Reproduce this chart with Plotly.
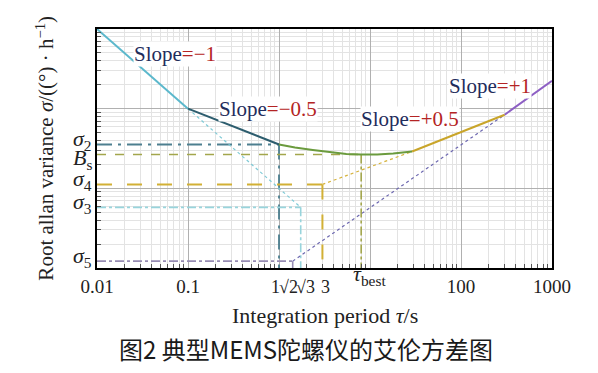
import numpy as np
import plotly.graph_objects as go

# ---------------- data ----------------
SQ2 = np.sqrt(2.0)
SQ3 = np.sqrt(3.0)
TAU_BEST = 8.0

seg_m1_tau = [0.01, 0.1]
seg_m1_val = [1000.0, 100.0]
seg_m05_tau = [0.1, 1.0]
seg_m05_val = [100.0, 35.5]
bias_tau = [1.0, 1.5, 2.35, 3.5, 5.5, 8.0, 12.0, 18.0, 29.0]
bias_val = [35.5, 32.5, 30.3, 28.6, 27.0, 26.6, 26.6, 27.4, 29.0]
seg_p05_tau = [29.0, 302.0]
seg_p05_val = [29.0, 84.0]
seg_p1_tau = [302.0, 1000.0]
seg_p1_val = [84.0, 224.0]

ext_m1_tau = [0.1, SQ3]
ext_m1_val = [100.0, 5.77]
ext_p05_tau = [3.0, 29.0]
ext_p05_val = [11.2, 29.0]
ext_p1_tau = [SQ2, 302.0]
ext_p1_val = [1.22, 84.0]

sigma_names = ["σ2", "Bs", "σ4", "σ3", "σ5"]
sigma_levels = [35.5, 26.6, 11.2, 5.77, 1.22]
sigma_taus = [1.0, TAU_BEST, 3.0, SQ3, SQ2]

tick_vals = [0.01, 0.1, 100, 1000]
tick_text = ["0.01", "0.1", "100", "1000"]
squeezed_vals = [1.0, SQ2, SQ3, 3.0]
squeezed_text = ["1", "√2", "√3", "3"]

slope_texts = ["=−1", "=−0.5", "=+0.5", "=+1"]

Y_BOTTOM = 1.0
X_LEFT = 0.01

# ---------------- styles ----------------
SERIF = "Liberation Serif, Times New Roman, serif"
fig = go.Figure()

def line(x, y, color, width, dash="solid"):
    fig.add_trace(go.Scatter(x=x, y=y, mode="lines", showlegend=False,
                             line=dict(color=color, width=width, dash=dash),
                             hoverinfo="skip"))

ref_styles = {
    "σ2": ("#4d7f8f", 1.8, "longdashdot", "longdashdot"),
    "Bs": ("#a3a64c", 1.6, "dash", "dashdot"),
    "σ4": ("#d2b035", 2.0, "longdash", "longdash"),
    "σ3": ("#98d4dc", 1.6, "dashdot", "dashdot"),
    "σ5": ("#978cb3", 1.6, "dashdot", "solid"),
}
for name, lev, tau in zip(sigma_names, sigma_levels, sigma_taus):
    c, w, dh, dv = ref_styles[name]
    line([X_LEFT, tau], [lev, lev], c, w, dh)
    line([tau, tau], [lev, Y_BOTTOM], c, w, dv)

# dotted extensions
line(ext_m1_tau, ext_m1_val, "#7fcad6", 1.2, "dot")
line(ext_p05_tau, ext_p05_val, "#d6b33c", 1.2, "dot")
line(ext_p1_tau, ext_p1_val, "#6d68b0", 1.2, "dot")

# main curve pieces
line(seg_m1_tau, seg_m1_val, "#5bb8cc", 2)
line(seg_m05_tau, seg_m05_val, "#2d5d6e", 2)
line(bias_tau, bias_val, "#6b9b3e", 2)
line(seg_p05_tau, seg_p05_val, "#c9a52a", 2)
line(seg_p1_tau, seg_p1_val, "#8d5fc4", 2)

# invisible trace carrying the label axis
fig.add_trace(go.Scatter(x=[0.01, 1000], y=[1, 1], xaxis="x2", mode="markers",
                         marker=dict(opacity=0), showlegend=False, hoverinfo="skip"))

minor_x = [m * 10.0 ** e for e in range(-2, 3) for m in range(2, 10)]
minor_y = [m * 10.0 ** e for e in range(0, 3) for m in range(2, 10)]

# page body has an 8px margin: shrink the figure and offset margins to compensate
fig.update_layout(
    width=590, height=365,
    margin=dict(l=89, r=46, t=21, b=105),
    paper_bgcolor="white", plot_bgcolor="white",
    xaxis=dict(type="log", range=[-2, 3], tickmode="array",
               tickvals=[0.01, 0.1, 1, 10, 100, 1000], showticklabels=False,
               showgrid=True, gridcolor="#b0b0b0", gridwidth=1, ticks="",
               zeroline=False, showline=True, linecolor="black", linewidth=2, mirror=True,
               minor=dict(tickmode="array", tickvals=minor_x, showgrid=True,
                          gridcolor="#e3e3e3", gridwidth=1, ticks="inside",
                          ticklen=4, tickcolor="#555")),
    xaxis2=dict(type="log", range=[-2, 3], overlaying="x", anchor="y", side="bottom",
                tickmode="array", tickvals=tick_vals, ticktext=tick_text,
                showgrid=False, zeroline=False, ticks="", tickangle=0,
                ticklabelstandoff=5,
                tickfont=dict(family=SERIF, size=19, color="#222")),
    yaxis=dict(type="log", range=[0, 3], tickmode="array",
               tickvals=[1, 10, 100, 1000], showticklabels=False,
               showgrid=True, gridcolor="#b0b0b0", gridwidth=1, ticks="",
               zeroline=False, showline=True, linecolor="black", linewidth=2, mirror=True,
               minor=dict(tickmode="array", tickvals=minor_y, showgrid=True,
                          gridcolor="#e3e3e3", gridwidth=1, ticks="inside",
                          ticklen=4, tickcolor="#555")),
)

ann = []
# squeezed tick labels 1 √2 √3 3
shifts = [-4, -4, 5, 3]
for v, t, s in zip(squeezed_vals, squeezed_text, shifts):
    ann.append(dict(x=np.log10(v), y=0, xref="x", yref="paper", text=t, showarrow=False,
                    xanchor="center", yanchor="top", xshift=s, yshift=-7,
                    font=dict(family=SERIF, size=18, color="#222")))
# tau_best tick label (raised tau, subscript "best")
ann.append(dict(x=np.log10(TAU_BEST), y=0, xref="x", yref="paper",
                text="<i>τ</i><sub>best</sub>", showarrow=False,
                xanchor="center", yanchor="top", xshift=8, yshift=9,
                font=dict(family=SERIF, size=22, color="#222")))

# sigma labels on the left
sig_text = {"σ2": "<i>σ</i><sub>2</sub>", "Bs": "<i>B</i><sub>s</sub>",
            "σ4": "<i>σ</i><sub>4</sub>", "σ3": "<i>σ</i><sub>3</sub>",
            "σ5": "<i>σ</i><sub>5</sub>"}
sig_shift = {"σ2": 5, "Bs": -5, "σ4": 4, "σ3": 4, "σ5": 4}
for name, lev in zip(sigma_names, sigma_levels):
    ann.append(dict(x=0, y=np.log10(lev), xref="paper", yref="y", text=sig_text[name],
                    showarrow=False, xanchor="right", yanchor="middle", xshift=-3,
                    yshift=sig_shift[name],
                    font=dict(family=SERIF, size=22, color="#222")))

# slope labels (left edge anchored)
slope_anchor_tau = [0.0249, 0.214, 7.76, 71.9]
slope_anchor_val = [487, 100, 75, 194]
for t, xv, yv in zip(slope_texts, slope_anchor_tau, slope_anchor_val):
    ann.append(dict(x=np.log10(xv), y=np.log10(yv), xref="x", yref="y",
                    text=f"<span style='color:#1f2d5c'>Slope</span><span style='color:#b42424'>{t}</span>",
                    showarrow=False, bgcolor="white", borderpad=0,
                    xanchor="left", yanchor="middle",
                    font=dict(family=SERIF, size=21)))

# axis titles and caption
ann.append(dict(x=-0.114, y=0.5, xref="paper", yref="paper", textangle=-90,
                text="Root allan variance <i>σ</i>/((°) · h<sup>−1</sup>)", showarrow=False,
                xanchor="center", yanchor="middle",
                font=dict(family=SERIF, size=21, color="#222")))
ann.append(dict(x=0.5, y=(268 - 315) / 239, xref="paper", yref="paper",
                text="Integration period <i>τ</i>/s", showarrow=False,
                xanchor="center", yanchor="middle",
                font=dict(family=SERIF, size=22, color="#222")))
ann.append(dict(x=(306 - 97) / 455, y=(268 - 348) / 239, xref="paper", yref="paper",
                text="图2 典型MEMS陀螺仪的艾伦方差图", showarrow=False,
                xanchor="center", yanchor="middle",
                font=dict(family="Noto Sans CJK SC, sans-serif", size=24, color="#1a1a1a")))
fig.update_layout(annotations=ann)

fig.write_html("out.html")
